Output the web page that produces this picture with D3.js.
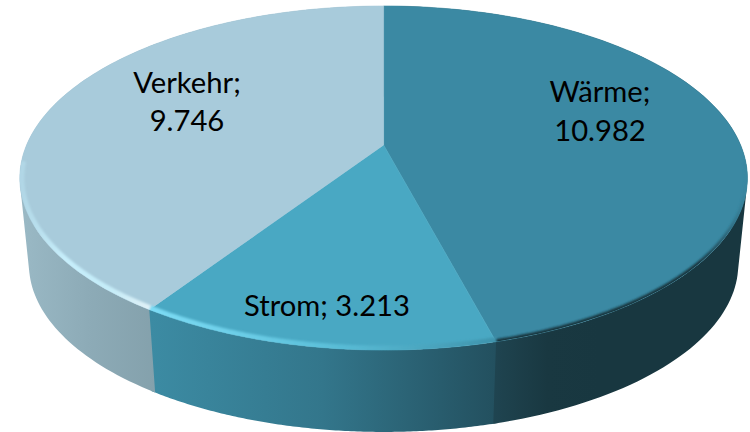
<!DOCTYPE html>
<html><head><meta charset="utf-8">
<script src="https://cdnjs.cloudflare.com/ajax/libs/d3/7.8.5/d3.min.js"></script>
<style>html,body{margin:0;padding:0;background:#fff}svg{display:block}text{font-family:Lato,"Open Sans",sans-serif;font-size:29.2px;fill:#000;text-anchor:middle}</style>
</head><body><svg width="750" height="432"></svg>
<script>
const categories = ["Wärme", "Strom", "Verkehr"];
const values = [10982, 3213, 9746];
const topColors = ["#3b89a3", "#49a8c3", "#a8cbdb"];
const wallStops = [["#1f4450", "#193841", "#183740"], ["#3c8ba3", "#33768b", "#23505f"], ["#9ab9c5", "#8dabb7", "#84a1ac"]];
const rimStops = [["#17343d", "#17343d", "#17343d", "#17343d", "#17343d", "#3b89a3"], ["#7cdcf5", "#5cc0da", "#3f94ad"], ["#b0d6e5", "#c6eefb", "#c4ecf8", "#e4f2f7"]];
const labelLines = [["Wärme;", "10.982"], ["Strom; 3.213"], ["Verkehr;", "9.746"]];
const labelAt = [[600, 102, 39], [327, 316, 0], [187, 93, 38]];

const W = 750, H = 432, cx = 383.6, cy = 145, a = 357, b = 165.7, p = 0.192, depth = 87, shrink = 0.975;
const svg = d3.select("svg").attr("viewBox", [0, 0, W, H]);
const defs = svg.append("defs");
const fmt = d3.formatLocale({decimal: ",", thousands: ".", grouping: [3], currency: ["", "€"]}).format(",");
const arcs = d3.pie().sort(null).value(d => d)(values);

const xS = d3.scaleLinear().domain([-1, 1]).range([cx - a, cx + a]);
function project(theta, level) {
  const X = Math.sin(theta), Y = -Math.cos(theta), w = 1 - p * Y;
  const s = level ? shrink : 1;
  return [cx + s * (xS(X / w) - cx), cy + (level ? depth : 0) + s * b * Y / w];
}
const samples = (t0, t1) => d3.range(0, 121).map(i => t0 + (t1 - t0) * i / 120);
const line = d3.line();

defs.append("filter").attr("id", "blur").attr("x", "-10%").attr("y", "-10%").attr("width", "120%").attr("height", "120%")
  .append("feGaussianBlur").attr("stdDeviation", 1.2);

function gradient(id, stops, x1, x2) {
  const g = defs.append("linearGradient").attr("id", id).attr("gradientUnits", "userSpaceOnUse")
    .attr("x1", x1).attr("x2", x2).attr("y1", 0).attr("y2", 0);
  stops.forEach((c, i) => g.append("stop").attr("offset", i / (stops.length - 1)).attr("stop-color", c));
}

const wallX = [[495, 600], [151, 495], [20, 155]];
const rimX = [[495, 747], [151, 495], [20, 155]];
arcs.forEach((d, i) => {
  gradient("wall" + i, wallStops[i], wallX[i][0], wallX[i][1]);
  gradient("rim" + i, rimStops[i], rimX[i][0], rimX[i][1]);
});
// one path per slice: every quad has the same winding, so there are no seams.
// The middle wall runs slightly under its neighbours to avoid hairline gaps.
const wallG = svg.append("g");
const overlap = 0.012;
[1, 0, 2].forEach(i => {
  const d = arcs[i];
  const extra = i === 1 ? overlap : 0;
  const ts = samples(d.startAngle - extra, d.endAngle + extra);
  const quads = d3.pairs(ts).map(([t0, t1]) => {
    const q = [project(t0, 0), project(t1, 0), project(t1, 1), project(t0, 1)];
    if (d3.polygonArea(q) < 0) q.reverse();
    return line(q) + "Z";
  });
  wallG.append("path").attr("d", quads.join("")).attr("fill", `url(#wall${i})`);
});

// top face; a thin same-colour stroke closes the hairlines between slices
const slicePath = d => line([[cx, cy], ...samples(d.startAngle, d.endAngle).map(t => project(t, 0))]) + "Z";
defs.append("clipPath").attr("id", "faceClip").append("path")
  .attr("d", line(samples(0, 2 * Math.PI).map(t => project(t, 0))) + "Z");
svg.append("g").selectAll("path").data(arcs).join("path")
  .attr("d", slicePath).attr("fill", (d, i) => topColors[i])
  .attr("stroke", (d, i) => topColors[i]).attr("stroke-width", 0.6).attr("stroke-linejoin", "round");

// bevel along the front rim
const rim = svg.append("g").attr("clip-path", "url(#faceClip)").append("g").attr("filter", "url(#blur)");
const rimWidth = [5, 9, 9];
arcs.forEach((d, i) => {
  const start = i === 0 ? Math.PI * 0.53 : d.startAngle;
  const end = i === 2 ? Math.PI * 1.47 : d.endAngle;
  rim.append("path").attr("d", line(samples(start, end).map(t => project(t, 0))))
    .attr("fill", "none").attr("stroke", `url(#rim${i})`).attr("stroke-width", rimWidth[i]);
});

// labels
const labels = svg.append("g").selectAll("text").data(arcs).join("text")
  .attr("data-value", d => fmt(d.value))
  .attr("x", (d, i) => labelAt[i][0]).attr("y", (d, i) => labelAt[i][1]);
labels.selectAll("tspan").data((d, i) => labelLines[i].map(s => ({s, i}))).join("tspan")
  .attr("x", d => labelAt[d.i][0]).attr("dy", (d, j) => j ? labelAt[d.i][2] : 0).text(d => d.s);
</script></body></html>
